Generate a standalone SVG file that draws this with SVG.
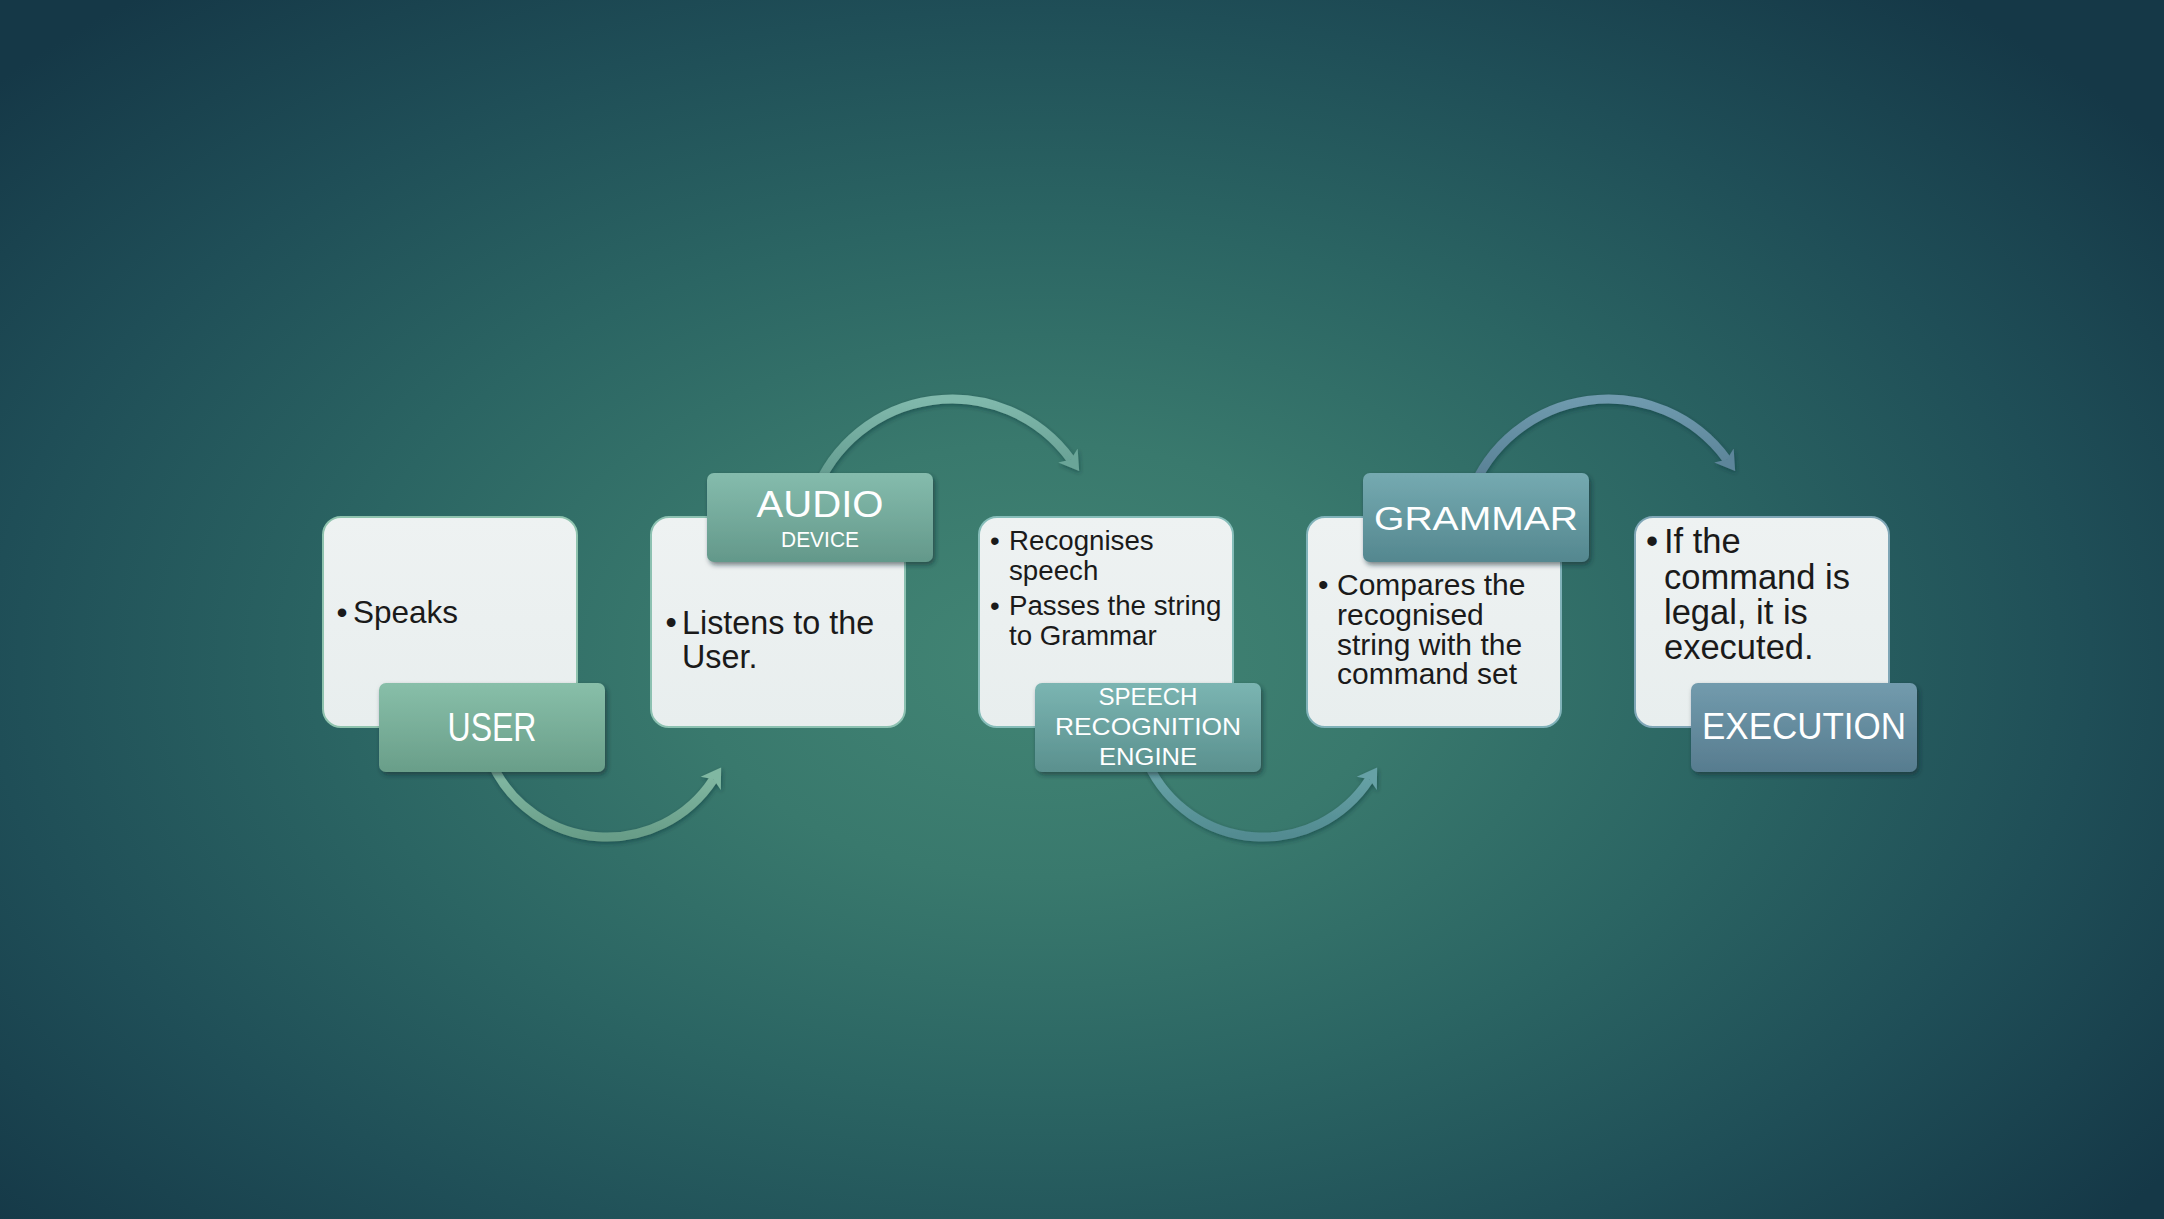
<svg xmlns="http://www.w3.org/2000/svg" width="2164" height="1219" viewBox="0 0 2164 1219">
  <defs>
    <radialGradient id="bg" gradientUnits="userSpaceOnUse" cx="1040" cy="660" r="1400" gradientTransform="translate(1040 660) scale(1 0.62) translate(-1040 -660)">
      <stop offset="0" stop-color="#428574"/>
      <stop offset="0.25" stop-color="#39796d"/>
      <stop offset="0.5" stop-color="#2b6563"/>
      <stop offset="0.75" stop-color="#1f4e57"/>
      <stop offset="1" stop-color="#153847"/>
    </radialGradient>
    <linearGradient id="card" x1="0" y1="0" x2="0" y2="1">
      <stop offset="0" stop-color="#eef2f2"/>
      <stop offset="1" stop-color="#e8eeee"/>
    </linearGradient>
    <linearGradient id="g1" x1="0" y1="0" x2="0" y2="1"><stop offset="0" stop-color="#88bfa9"/><stop offset="1" stop-color="#699e89"/></linearGradient>
    <linearGradient id="g2" x1="0" y1="0" x2="0" y2="1"><stop offset="0" stop-color="#85bcad"/><stop offset="1" stop-color="#63988a"/></linearGradient>
    <linearGradient id="g3" x1="0" y1="0" x2="0" y2="1"><stop offset="0" stop-color="#7bb5b2"/><stop offset="1" stop-color="#5a908e"/></linearGradient>
    <linearGradient id="g4" x1="0" y1="0" x2="0" y2="1"><stop offset="0" stop-color="#75aab1"/><stop offset="1" stop-color="#54878f"/></linearGradient>
    <linearGradient id="g5" x1="0" y1="0" x2="0" y2="1"><stop offset="0" stop-color="#729bad"/><stop offset="1" stop-color="#577c8f"/></linearGradient>
    <linearGradient id="a1" x1="0" y1="0" x2="0" y2="1"><stop offset="0" stop-color="#86bda7"/><stop offset="1" stop-color="#689d88"/></linearGradient>
    <linearGradient id="a2" x1="0" y1="0" x2="0" y2="1"><stop offset="0" stop-color="#80b9ac"/><stop offset="1" stop-color="#5e968a"/></linearGradient>
    <linearGradient id="a3" x1="0" y1="0" x2="0" y2="1"><stop offset="0" stop-color="#6ba6aa"/><stop offset="1" stop-color="#528b91"/></linearGradient>
    <linearGradient id="a4" x1="0" y1="0" x2="0" y2="1"><stop offset="0" stop-color="#6f9aae"/><stop offset="1" stop-color="#547b90"/></linearGradient>
    <filter id="shadow" x="-20%" y="-20%" width="140%" height="150%">
      <feDropShadow dx="2" dy="3" stdDeviation="2.5" flood-color="#0a2a30" flood-opacity="0.55"/>
    </filter>
    <filter id="ashadow" x="-20%" y="-20%" width="140%" height="150%">
      <feDropShadow dx="1" dy="2" stdDeviation="2" flood-color="#0a2a30" flood-opacity="0.45"/>
    </filter>
    <marker id="h1" markerUnits="userSpaceOnUse" viewBox="0 -13 21 26" refX="5" refY="0" markerWidth="21" markerHeight="26" orient="auto"><path d="M0,-12 L19,0 L0,12 L5,0 Z" fill="#80b8a2"/></marker>
    <marker id="h2" markerUnits="userSpaceOnUse" viewBox="0 -13 21 26" refX="5" refY="0" markerWidth="21" markerHeight="26" orient="auto"><path d="M0,-12 L19,0 L0,12 L5,0 Z" fill="#6aa598"/></marker>
    <marker id="h3" markerUnits="userSpaceOnUse" viewBox="0 -13 21 26" refX="5" refY="0" markerWidth="21" markerHeight="26" orient="auto"><path d="M0,-12 L19,0 L0,12 L5,0 Z" fill="#66a1a6"/></marker>
    <marker id="h4" markerUnits="userSpaceOnUse" viewBox="0 -13 21 26" refX="5" refY="0" markerWidth="21" markerHeight="26" orient="auto"><path d="M0,-12 L19,0 L0,12 L5,0 Z" fill="#5d859a"/></marker>
  </defs>
  <style>
    .card { fill: url(#card); stroke-width: 2; }
    .lbl { filter: url(#shadow); }
    .body { font-family: "Liberation Sans", Arial, sans-serif; fill: #1a1a1a; }
    .ltxt { font-family: "Liberation Sans", Arial, sans-serif; fill: #ffffff; text-anchor: middle; }
    .arc { fill: none; stroke-width: 9; filter: url(#ashadow); }
  </style>

  <rect x="0" y="0" width="2164" height="1219" fill="url(#bg)"/>

  <g id="connectors">
    <path class="arc" d="M491.9,763.7 A127,127 0 0 0 713.5,779.2" stroke="url(#a1)" marker-end="url(#h1)"/>
    <path class="arc" d="M813.9,495.7 A147,147 0 0 1 1070.9,459.6" stroke="url(#a2)" marker-end="url(#h2)"/>
    <path class="arc" d="M1147.9,763.7 A127,127 0 0 0 1369.5,779.2" stroke="url(#a3)" marker-end="url(#h3)"/>
    <path class="arc" d="M1469.9,495.7 A147,147 0 0 1 1726.9,459.6" stroke="url(#a4)" marker-end="url(#h4)"/>
  </g>

  <g id="node-user">
    <rect class="card" x="323" y="517" width="254" height="210" rx="18" stroke="#8fc3ae"/>
    <text class="body" font-size="31.5"><tspan x="336.5" y="623">•</tspan><tspan x="353" y="623">Speaks</tspan></text>
    <rect class="lbl" x="379" y="683" width="226" height="89" rx="7" fill="url(#g1)"/>
    <text class="ltxt" x="492" y="741" font-size="40" textLength="89" lengthAdjust="spacingAndGlyphs">USER</text>
  </g>

  <g id="node-audio">
    <rect class="card" x="651" y="517" width="254" height="210" rx="18" stroke="#8cc1b1"/>
    <text class="body" font-size="32.3"><tspan x="665.5" y="634">•</tspan><tspan x="682" y="634">Listens to the</tspan><tspan x="682" y="668">User.</tspan></text>
    <rect class="lbl" x="707" y="473" width="226" height="89" rx="7" fill="url(#g2)"/>
    <text class="ltxt" x="820" y="517" font-size="36" textLength="127" lengthAdjust="spacingAndGlyphs">AUDIO</text>
    <text class="ltxt" x="820" y="547" font-size="22" textLength="78" lengthAdjust="spacingAndGlyphs">DEVICE</text>
  </g>

  <g id="node-speech">
    <rect class="card" x="979" y="517" width="254" height="210" rx="18" stroke="#86bdb9"/>
    <text class="body" font-size="27.7"><tspan x="990" y="550">•</tspan><tspan x="1009" y="550">Recognises</tspan><tspan x="1009" y="580">speech</tspan><tspan x="990" y="615">•</tspan><tspan x="1009" y="615">Passes the string</tspan><tspan x="1009" y="645">to Grammar</tspan></text>
    <rect class="lbl" x="1035" y="683" width="226" height="89" rx="7" fill="url(#g3)"/>
    <text class="ltxt" x="1148" y="705" font-size="24" textLength="99" lengthAdjust="spacingAndGlyphs">SPEECH</text>
    <text class="ltxt" x="1148" y="735" font-size="24" textLength="186" lengthAdjust="spacingAndGlyphs">RECOGNITION</text>
    <text class="ltxt" x="1148" y="765" font-size="24" textLength="98" lengthAdjust="spacingAndGlyphs">ENGINE</text>
  </g>

  <g id="node-grammar">
    <rect class="card" x="1307" y="517" width="254" height="210" rx="18" stroke="#80b2b9"/>
    <text class="body" font-size="30"><tspan x="1318" y="595">•</tspan><tspan x="1337" y="595">Compares the</tspan><tspan x="1337" y="625">recognised</tspan><tspan x="1337" y="655">string with the</tspan><tspan x="1337" y="684">command set</tspan></text>
    <rect class="lbl" x="1363" y="473" width="226" height="89" rx="7" fill="url(#g4)"/>
    <text class="ltxt" x="1476" y="530" font-size="32.5" textLength="204" lengthAdjust="spacingAndGlyphs">GRAMMAR</text>
  </g>

  <g id="node-execution">
    <rect class="card" x="1635" y="517" width="254" height="210" rx="18" stroke="#7fa6b6"/>
    <text class="body" font-size="34.5"><tspan x="1646" y="553">•</tspan><tspan x="1664" y="553">If the</tspan><tspan x="1664" y="589">command is</tspan><tspan x="1664" y="624">legal, it is</tspan><tspan x="1664" y="659">executed.</tspan></text>
    <rect class="lbl" x="1691" y="683" width="226" height="89" rx="7" fill="url(#g5)"/>
    <text class="ltxt" x="1804" y="739" font-size="36" textLength="204" lengthAdjust="spacingAndGlyphs">EXECUTION</text>
  </g>
</svg>
